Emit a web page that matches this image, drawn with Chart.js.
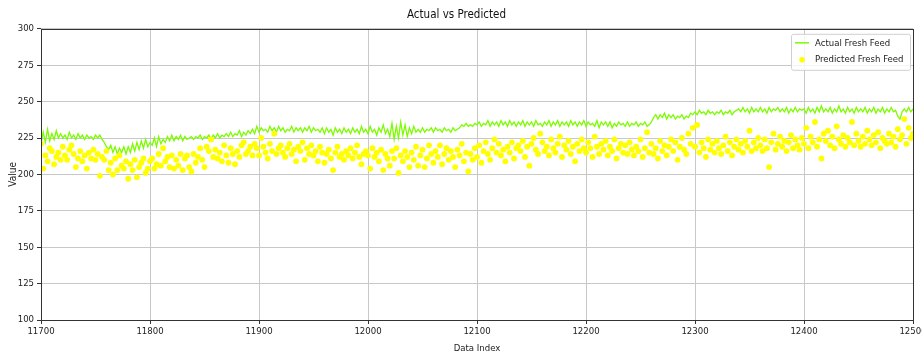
<!DOCTYPE html>
<html>
<head>
<meta charset="utf-8">
<script src="https://cdn.jsdelivr.net/npm/chart.js@4.4.1/dist/chart.umd.min.js"></script>
<style>
  html, body { margin: 0; padding: 0; background: #fff; }
  #wrap { width: 922px; height: 354px; }
</style>
</head>
<body>
<div id="wrap"><canvas id="chart" width="922" height="354"></canvas></div>
<script>
// Sumbu x: indeks data mulai 11700, satu titik tiap 2 indeks
var indexStart = 11700;
var indexStep = 2;

// Nilai aktual (garis hijau)
var actualFeed = [
  221, 229, 222, 231, 223, 228, 224, 230, 225, 228,
  225, 227, 224, 229, 225, 227, 224, 228, 225, 227,
  224, 227, 225, 226, 224, 227, 225, 227, 224, 222,
  219, 217, 220, 215, 219, 214, 218, 215, 219, 214,
  219, 215, 221, 216, 222, 217, 223, 218, 224, 219,
  222, 220, 225, 219, 226, 221, 224, 222, 226, 223,
  227, 223, 226, 224, 227, 223, 226, 224, 225, 226,
  224, 226, 225, 227, 224, 226, 225, 227, 224, 227,
  225, 228, 225, 227, 226, 228, 226, 229, 226, 228,
  227, 230, 226, 229, 227, 230, 228, 231, 228, 233,
  229, 232, 230, 231, 229, 233, 230, 232, 229, 233,
  230, 232, 229, 231, 230, 233, 229, 232, 230, 232,
  229, 232, 230, 233, 229, 232, 230, 231, 229, 232,
  228, 232, 229, 231, 227, 232, 229, 231, 228, 232,
  229, 231, 228, 232, 229, 231, 228, 233, 229, 231,
  228, 233, 229, 231, 227, 232, 229, 234, 228, 231,
  226, 235, 224, 233, 225, 236, 227, 234, 226, 232,
  228, 233, 229, 231, 229, 232, 229, 231, 230, 232,
  229, 232, 230, 231, 229, 232, 230, 231, 229, 232,
  230, 231, 232, 234, 233, 235, 233, 234, 233, 235,
  234, 236, 233, 235, 234, 237, 233, 236, 234, 236,
  233, 237, 234, 236, 233, 237, 234, 236, 233, 236,
  234, 237, 233, 236, 234, 236, 233, 237, 234, 235,
  233, 236, 234, 237, 233, 236, 234, 237, 233, 236,
  234, 236, 233, 237, 234, 236, 233, 236, 234, 237,
  233, 236, 234, 235, 233, 237, 232, 236, 234, 236,
  233, 236, 232, 235, 233, 236, 234, 235, 233, 236,
  233, 235, 234, 236, 233, 235, 234, 236, 233, 234,
  236, 239, 241, 238, 241, 239, 242, 238, 241, 239,
  241, 238, 240, 239, 241, 238, 240, 239, 242, 241,
  243, 241, 244, 242, 243, 241, 244, 242, 243, 241,
  243, 242, 244, 241, 243, 242, 244, 241, 243, 244,
  245, 243, 246, 243, 245, 242, 246, 243, 245, 243,
  246, 243, 245, 242, 246, 243, 245, 244, 246, 243,
  245, 243, 246, 242, 245, 243, 246, 243, 245, 244,
  245, 242, 246, 243, 245, 242, 246, 243, 247, 243,
  245, 243, 246, 242, 245, 243, 247, 243, 245, 242,
  246, 243, 245, 242, 246, 243, 245, 243, 246, 242,
  245, 243, 246, 242, 245, 243, 246, 242, 245, 243,
  246, 243, 244, 240, 238, 243, 245, 243, 246, 243,
  245
];

// Nilai prediksi (titik kuning)
var predictedFeed = [
  221, 204, 213, 209, 218, 216, 207, 212, 215, 210,
  219, 213, 210, 217, 220, 214, 205, 211, 216, 209,
  213, 204, 215, 211, 217, 210, 214, 199, 212, 210,
  216, 203, 208, 200, 211, 203, 213, 206, 204, 209,
  197, 207, 203, 210, 198, 205, 208, 211, 201, 204,
  209, 211, 204, 207, 214, 206, 218, 209, 212, 205,
  213, 204, 210, 206, 214, 203, 211, 213, 205, 202,
  214, 208, 212, 218, 210, 205, 219, 216, 224, 212,
  217, 211, 215, 209, 220, 213, 208, 218, 214, 207,
  216, 212, 220, 222, 214, 216, 219, 213, 221, 218,
  213, 225, 219, 215, 211, 221, 216, 228, 214, 218,
  220, 215, 212, 218, 221, 214, 217, 209, 219, 216,
  222, 210, 218, 214, 220, 213, 216, 209, 219, 215,
  208, 214, 217, 211, 203, 215, 219, 212, 214, 210,
  216, 213, 218, 211, 215, 220, 212, 207, 214, 216,
  213, 204, 218, 212, 215, 209, 217, 203, 214, 211,
  206, 216, 211, 218, 201, 213, 209, 216, 212, 205,
  215, 210, 219, 206, 213, 217, 205, 211, 220, 214,
  208, 216, 212, 220, 207, 214, 218, 210, 216, 212,
  205, 217, 213, 221, 209, 215, 202, 214, 210, 218,
  212, 220, 208, 216, 222, 214, 210, 218, 224, 215,
  221, 213, 217, 209, 219, 215, 222, 211, 218, 220,
  216, 223, 212, 219, 206, 221, 225, 217, 214, 228,
  222, 216, 219, 213, 224, 218, 215, 221, 226, 212,
  220, 217, 223, 214, 219, 209, 221, 216, 224, 218,
  215, 222, 218, 212, 226, 219, 214, 221, 217, 223,
  213, 219, 216, 224, 211, 218, 221, 215, 220, 214,
  222, 217, 213, 219, 216, 224, 212, 218, 229, 215,
  221, 214, 218, 211, 223, 216, 220, 213, 219, 224,
  216, 222, 210, 219, 225, 217, 214, 228, 221, 232,
  219, 234, 215, 222, 218, 212, 224, 217, 221, 215,
  223, 218, 214, 220, 226, 216, 222, 213, 219, 224,
  217, 221, 215, 223, 219, 230, 216, 222, 218, 225,
  220, 216, 224, 218, 205, 222, 228, 217, 221, 226,
  219, 223, 216, 222, 227, 218, 224, 220, 217, 225,
  221, 232, 218, 226, 222, 236, 219, 224, 211, 228,
  223, 230, 220, 226, 218, 233, 224, 221, 227, 219,
  225, 222, 236, 220, 228, 223, 219, 226, 221, 230,
  224, 220, 227, 222, 229, 218, 225, 223, 221, 228,
  222, 226, 219, 231, 224, 227, 238, 221, 232, 225,
  228
];

// Label sumbu
var xTicks = [11700, 11800, 11900, 12000, 12100, 12200, 12300, 12400, 12500];
var yTicks = [100, 125, 150, 175, 200, 225, 250, 275, 300];

var FONT = '"DejaVu Sans Condensed", "Liberation Sans Narrow", "DejaVu Sans", sans-serif';

function toPoints(arr) {
  return arr.map(function (v, i) { return { x: indexStart + i * indexStep, y: v }; });
}

// Legend di dalam area plot (pojok kanan atas)
var insideLegend = {
  id: 'insideLegend',
  afterDraw: function (chart) {
    var c = chart.ctx, a = chart.chartArea;
    var ds = chart.data.datasets;
    c.save();
    c.font = '9.5px ' + FONT;
    var tw = Math.max(c.measureText(ds[0].label).width, c.measureText(ds[1].label).width);
    var w = Math.ceil(tw) + 30, h = 36, x = a.right - w - 3, y = a.top + 5;
    c.fillStyle = 'rgba(255,255,255,0.8)';
    c.strokeStyle = '#d0d0d0';
    c.lineWidth = 1;
    c.beginPath();
    c.roundRect(x + 0.5, y + 0.5, w, h, 2);
    c.fill();
    c.stroke();
    c.textBaseline = 'middle';
    c.fillStyle = '#222';
    // garis aktual
    c.strokeStyle = ds[0].borderColor;
    c.lineWidth = 1.5;
    c.beginPath();
    c.moveTo(x + 4, y + 9);
    c.lineTo(x + 18, y + 9);
    c.stroke();
    c.fillText(ds[0].label, x + 24, y + 10);
    // titik prediksi
    c.fillStyle = ds[1].backgroundColor;
    c.beginPath();
    c.arc(x + 11, y + 26, 2.8, 0, Math.PI * 2);
    c.fill();
    c.fillStyle = '#222';
    c.fillText(ds[1].label, x + 24, y + 26);
    c.restore();
  }
};

// Bingkai plot (spines)
var frame = {
  id: 'frame',
  afterDatasetsDraw: function (chart) {
    var c = chart.ctx, a = chart.chartArea;
    c.save();
    c.strokeStyle = '#333';
    c.lineWidth = 1;
    c.strokeRect(Math.round(a.left) + 0.5, Math.round(a.top) + 0.5,
      Math.round(a.right - a.left), Math.round(a.bottom - a.top));
    c.restore();
  }
};

new Chart(document.getElementById('chart').getContext('2d'), {
  type: 'scatter',
  data: {
    datasets: [
      {
        label: 'Actual Fresh Feed',
        data: toPoints(actualFeed),
        showLine: true,
        borderColor: '#7CFC00',
        backgroundColor: '#7CFC00',
        borderWidth: 1.3,
        pointRadius: 0,
        tension: 0,
        order: 1
      },
      {
        label: 'Predicted Fresh Feed',
        data: toPoints(predictedFeed),
        backgroundColor: '#FFFF00',
        borderWidth: 0,
        pointRadius: 2.9,
        order: 0
      }
    ]
  },
  options: {
    responsive: false,
    animation: false,
    layout: { padding: { left: 0, right: 9, top: 0, bottom: 0 } },
    plugins: {
      legend: { display: false },
      tooltip: { enabled: false },
      title: {
        display: true,
        text: 'Actual vs Predicted',
        color: '#111',
        font: { family: FONT, size: 11.5, weight: 'normal' },
        padding: { top: 8, bottom: 7 }
      }
    },
    scales: {
      x: {
        type: 'linear',
        min: xTicks[0],
        max: xTicks[xTicks.length - 1],
        afterBuildTicks: function (s) { s.ticks = xTicks.map(function (v) { return { value: v }; }); },
        afterFit: function (s) { s.height = 34; s.paddingLeft = 0; s.paddingRight = 0; },
        ticks: {
          color: '#222',
          font: { family: FONT, size: 9.5 },
          padding: 2,
          maxRotation: 0,
          callback: function (v) { return String(v); }
        },
        grid: { color: '#c8c8c8', lineWidth: 1, tickLength: 4, tickColor: '#333' },
        border: { display: false },
        title: {
          display: true,
          text: 'Data Index',
          color: '#222',
          font: { family: FONT, size: 9.5 },
          padding: { top: 1, bottom: 0 }
        }
      },
      y: {
        min: yTicks[0],
        max: yTicks[yTicks.length - 1],
        afterBuildTicks: function (s) { s.ticks = yTicks.map(function (v) { return { value: v }; }); },
        afterFit: function (s) { s.width = 41; },
        ticks: {
          color: '#222',
          font: { family: FONT, size: 9.5 },
          padding: 3
        },
        grid: { color: '#c8c8c8', lineWidth: 1, tickLength: 4, tickColor: '#333' },
        border: { display: false },
        title: {
          display: true,
          text: 'Value',
          color: '#222',
          font: { family: FONT, size: 10 },
          padding: { top: 7, bottom: 2 }
        }
      }
    }
  },
  plugins: [frame, insideLegend]
});
</script>
</body>
</html>
